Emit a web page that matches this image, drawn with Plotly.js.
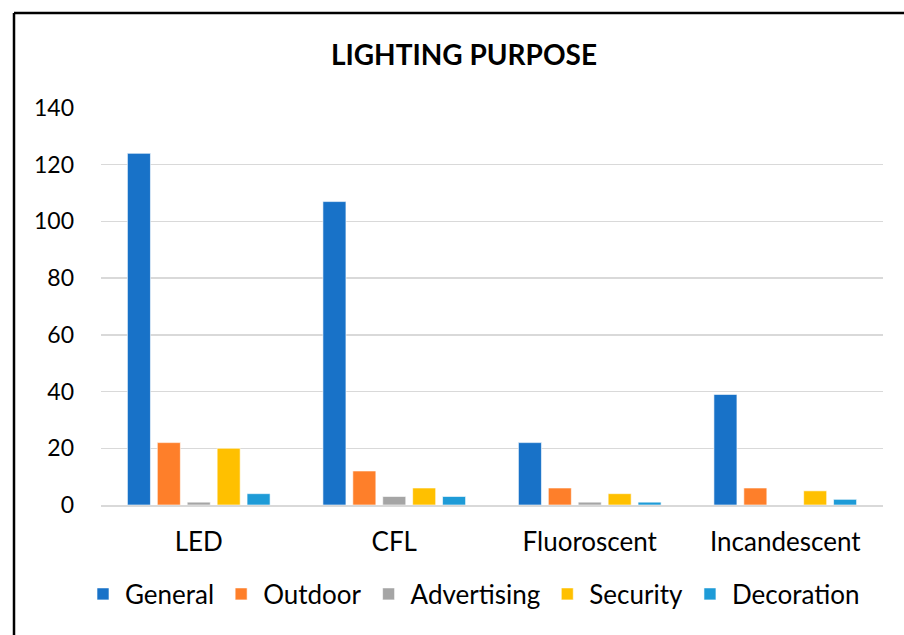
<!DOCTYPE html>
<html>
<head>
<meta charset="utf-8">
<script src="https://cdn.plot.ly/plotly-3.0.1.min.js"></script>
<style>html,body{margin:0;padding:0;background:#fff;}#chart{width:904px;height:635px;}</style>
</head>
<body>
<div id="chart"></div>
<script>
const categories = ["LED", "CFL", "Fluoroscent", "Incandescent"];
const seriesNames = ["General", "Outdoor", "Advertising", "Security", "Decoration"];
const general = [124, 107, 22, 39];
const outdoor = [22, 12, 6, 6];
const advertising = [1, 3, 1, 0];
const security = [20, 6, 4, 5];
const decoration = [4, 3, 1, 2];
const yTicks = [0, 20, 40, 60, 80, 100, 120, 140];

const colors = ["#1872C8", "#FE7F2A", "#A5A5A5", "#FFC000", "#1E9BD7"];
const values = [general, outdoor, advertising, security, decoration];

const traces = seriesNames.map((name, i) => ({
  type: "bar",
  name: name,
  x: categories,
  y: values[i],
  marker: {color: colors[i], line: {color: "rgba(255,255,255,0.6)", width: 1}},
  hoverinfo: "x+y+name"
}));

const font = "Lato, 'Liberation Sans', sans-serif";
const L = 101, R = 21, T = 108, B = 130;
const pw = 904 - L - R, ph = 635 - T - B;

const layout = {
  width: 904,
  height: 635,
  margin: {l: L, r: R, t: T, b: B},
  paper_bgcolor: "#fff",
  plot_bgcolor: "#fff",
  font: {family: font, size: 24, color: "#000"},
  title: {text: "<b>LIGHTING PURPOSE</b>", x: (464 - L)/pw, xref: "paper", xanchor: "center", y: 1 - 55/635, yanchor: "middle", font: {family: font, size: 28, color: "#000"}},
  barmode: "group",
  bargap: 0.235,
  bargroupgap: 0.23,
  xaxis: {
    type: "category",
    showgrid: false,
    showline: true,
    linecolor: "#D9D9D9",
    linewidth: 2,
    ticks: "",
    tickfont: {family: font, size: 26, color: "#000"},
    ticklabelstandoff: 13
  },
  yaxis: {
    range: [0, 140],
    tickvals: yTicks,
    ticktext: yTicks.map(String),
    showgrid: true,
    gridcolor: "#D9D9D9",
    gridwidth: 1.5,
    zeroline: false,
    showline: false,
    ticks: "",
    tickfont: {family: font, size: 23, color: "#000"},
    ticklabelstandoff: 26
  },
  legend: {
    orientation: "h",
    x: (473 - L)/pw, xanchor: "center",
    y: -(594 - (635 - B)) / ph, yanchor: "middle",
    font: {family: font, size: 26, color: "#000"},
    itemwidth: 34,
    tracegroupgap: 0,
    traceorder: "normal"
  },
  shapes: [
    {type: "line", xref: "paper", yref: "paper", x0: (14 - L)/pw, x1: 1.1, y0: 1 + (T - 13)/ph, y1: 1 + (T - 13)/ph, line: {color: "#000", width: 2.5}},
    {type: "line", xref: "paper", yref: "paper", x0: (14 - L)/pw, x1: (14 - L)/pw, y0: 1 + (T - 13)/ph, y1: -0.4, line: {color: "#000", width: 2.5}}
  ]
};

Plotly.newPlot("chart", traces, layout, {displayModeBar: false, staticPlot: true});
</script>
</body>
</html>
